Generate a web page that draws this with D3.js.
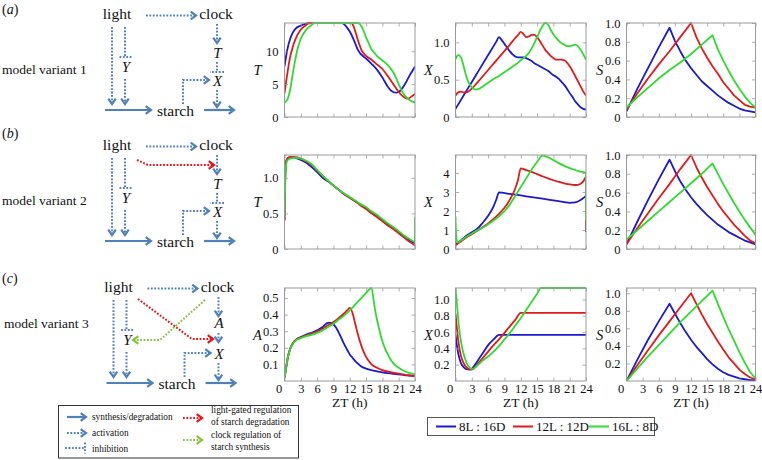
<!DOCTYPE html>
<html><head><meta charset="utf-8">
<script src="https://cdn.jsdelivr.net/npm/d3@7"></script>
<style>
body{margin:0;background:#fff}
svg{display:block}
svg text{font-family:"Liberation Serif","Times New Roman",Times,"DejaVu Serif",serif !important;fill:#111}
</style>
</head><body>
<svg id="chart" width="762" height="460"></svg>
<script>
// ---------- categories / legend ----------
const photoperiods = ["8L : 16D", "12L : 12D", "16L : 8D"];
const seriesColors = ["#1a1ad2", "#e31a1a", "#2edc2e"];
const hourTicks = [0, 3, 6, 9, 12, 15, 18, 21, 24];
const variantNames = ["model variant 1", "model variant 2", "model variant 3"];
const panelLetters = ["a", "b", "c"];

// ---------- y tick labels ----------
const yTicks_T1 = [0, 5, 10];
const yTicks_X1 = [0, 0.5, 1.0];
const yTicks_S = [0, 0.2, 0.4, 0.6, 0.8, 1.0];
const yTicks_T2 = [0, 0.5, 1.0];
const yTicks_X2 = [0, 1, 2, 3, 4];
const yTicks_A3 = [0.1, 0.2, 0.3, 0.4, 0.5];
const yTicks_X3 = [0.2, 0.4, 0.6, 0.8, 1.0];
const yTicks_S3 = [0.2, 0.4, 0.6, 0.8, 1.0];

// ---------- series values [ZT (h), value] ----------
// model variant 1
const T_v1_8 = [[0,7.7],[0.5,10.2],[1,11.8],[1.5,12.8],[2,13.4],[3,13.9],[4,14.2],[5,14.3],[10.5,14.3],[11,14.1],[11.5,13.6],[12,13],[12.5,12.2],[13,11.2],[13.5,10.2],[14,9.6],[15,8.9],[16,8.1],[17,7.2],[18,6],[19,4.6],[19.5,4.1],[20,3.8],[20.5,3.7],[21,3.8],[21.5,4.2],[22,4.8],[22.5,5.5],[23,6.3],[23.5,7],[24,7.7]];
const T_v1_12 = [[0,3.6],[0.5,6.5],[1,9],[1.5,10.6],[2,11.8],[3,13.3],[4,14],[4.5,14.3],[12.3,14.3],[12.7,13.8],[13.2,12.5],[13.7,11.2],[14.2,10.1],[15,9.3],[16,8.7],[17,8],[18,7.3],[19,6.2],[20,5],[21,3.8],[22,3.0],[22.5,2.8],[23,2.9],[23.5,3.2],[24,3.5]];
const T_v1_16 = [[0,2.2],[0.5,2.6],[1,4],[1.5,6.5],[2,8.8],[2.5,10.7],[3,11.9],[4,13.3],[5,14],[5.5,14.3],[13.5,14.3],[14,14],[14.5,13.2],[15,12.1],[15.5,11.2],[16,10.3],[16.5,9.8],[17,9.3],[18,8.6],[19,7.9],[20,6.8],[20.5,6],[21,5],[21.5,4.1],[22,3.4],[23,2.6],[24,2.2]];
const X_v1_8 = [[0,0.11],[2,0.35],[4,0.59],[6,0.83],[7.5,1.01],[8,1.07],[8.5,1.03],[9,0.98],[9.5,0.93],[10,0.88],[10.5,0.84],[11,0.81],[11.5,0.8],[12,0.8],[12.5,0.8],[13,0.79],[13.5,0.77],[14,0.75],[14.5,0.72],[15,0.7],[15.5,0.68],[16,0.66],[17,0.62],[18,0.56],[18.5,0.54],[19,0.51],[19.5,0.47],[20,0.43],[20.5,0.38],[21,0.32],[21.5,0.27],[22,0.21],[22.5,0.17],[23,0.13],[23.5,0.11],[24,0.1]];
const X_v1_12 = [[0,0.29],[0.5,0.33],[1,0.34],[1.5,0.33],[2,0.33],[2.5,0.35],[3,0.38],[4,0.46],[6,0.63],[8,0.8],[10,0.97],[11,1.06],[11.5,1.1],[12,1.14],[12.5,1.11],[13,1.07],[13.5,1.08],[14,1.1],[14.5,1.1],[15,1.07],[15.5,1.02],[16,0.96],[16.5,0.9],[17,0.86],[17.5,0.82],[18,0.79],[18.5,0.77],[19,0.77],[19.5,0.77],[20,0.76],[20.5,0.73],[21,0.68],[21.5,0.62],[22,0.55],[22.5,0.48],[23,0.41],[23.5,0.34],[24,0.29]];
const X_v1_16 = [[0,0.77],[0.3,0.82],[0.6,0.83],[1,0.8],[1.5,0.68],[2,0.54],[2.5,0.45],[3,0.4],[3.5,0.37],[4,0.37],[5,0.41],[6,0.46],[7,0.51],[8,0.55],[9,0.6],[10,0.65],[11,0.7],[12,0.76],[13,0.82],[13.5,0.86],[14,0.92],[14.5,0.99],[15,1.07],[15.5,1.15],[16,1.22],[16.5,1.26],[17,1.24],[17.5,1.17],[18,1.11],[18.5,1.06],[19,1.02],[19.5,0.99],[20,0.97],[20.5,0.95],[21,0.95],[21.5,0.96],[22,0.97],[22.5,0.95],[23,0.9],[23.5,0.84],[24,0.77]];
const S_v1_8 = [[0,0.06],[2,0.3],[4,0.52],[6,0.74],[8,0.95],[9,0.81],[10,0.7],[11,0.6],[12,0.52],[13,0.45],[14,0.38],[15,0.33],[16,0.28],[17,0.23],[18,0.19],[19,0.15],[20,0.12],[21,0.09],[22,0.07],[23,0.06],[24,0.05]];
const S_v1_12 = [[0,0.08],[2,0.25],[4,0.41],[6,0.56],[8,0.7],[10,0.85],[12,1.0],[13,0.85],[14,0.73],[15,0.63],[16,0.54],[17,0.46],[18,0.37],[19,0.3],[20,0.23],[21,0.18],[22,0.13],[23,0.11],[24,0.1]];
const S_v1_16 = [[0,0.1],[2,0.21],[4,0.31],[6,0.41],[8,0.5],[10,0.58],[12,0.67],[14,0.77],[16,0.87],[17,0.72],[18,0.6],[19,0.49],[20,0.39],[21,0.3],[22,0.22],[23,0.15],[24,0.1]];
// model variant 2
const T_v2_8 = [[0,0.4],[0.1,0.9],[0.25,1.2],[0.5,1.27],[1,1.29],[2,1.28],[3,1.25],[4,1.21],[5,1.15],[6,1.08],[7,1.0],[8,0.95],[9,0.89],[10,0.83],[11,0.77],[12,0.72],[13,0.67],[14,0.62],[15,0.57],[16,0.51],[17,0.46],[18,0.4],[19,0.34],[20,0.29],[21,0.23],[22,0.17],[23,0.12],[24,0.08]];
const T_v2_12 = [[0,0.4],[0.1,0.9],[0.25,1.2],[0.5,1.27],[1,1.29],[2,1.29],[3,1.27],[4,1.23],[5,1.18],[6,1.1],[7,1.03],[8,0.96],[9,0.89],[10,0.83],[11,0.77],[12,0.72],[13,0.67],[14,0.61],[15,0.56],[16,0.5],[17,0.45],[18,0.39],[19,0.33],[20,0.28],[21,0.22],[22,0.16],[23,0.1],[24,0.05]];
const T_v2_16 = [[0,0.45],[0.1,0.8],[0.25,1.15],[0.5,1.24],[1,1.27],[2,1.28],[3,1.27],[4,1.24],[5,1.19],[6,1.11],[7,1.03],[8,0.96],[9,0.89],[10,0.83],[11,0.78],[12,0.73],[13,0.68],[14,0.63],[15,0.59],[16,0.53],[17,0.48],[18,0.42],[19,0.36],[20,0.31],[21,0.25],[22,0.19],[23,0.14],[24,0.1],[24,0.45]];
const X_v2_8 = [[0,0.25],[1,0.45],[2,0.7],[3,0.88],[4,1.07],[5,1.38],[6,1.75],[7,2.25],[7.5,2.6],[8,2.98],[10,2.9],[12,2.82],[14,2.73],[16,2.65],[18,2.56],[20,2.47],[21,2.43],[22,2.45],[23,2.58],[23.5,2.68],[24,2.78],[24,0.9]];
const X_v2_12 = [[0,0.2],[1,0.4],[2,0.61],[3,0.78],[4,0.96],[5,1.15],[6,1.35],[7,1.58],[8,1.85],[9,2.17],[10,2.6],[11,3.2],[11.5,3.65],[12,4.25],[13,4.15],[14,4.06],[15,3.94],[16,3.83],[17,3.72],[18,3.62],[19,3.53],[20,3.46],[21,3.4],[22,3.37],[22.5,3.38],[23,3.44],[23.5,3.56],[24,3.8],[24,1.0]];
const X_v2_16 = [[0,1.7],[0.15,0.6],[0.4,0.35],[1,0.45],[2,0.65],[3,0.82],[4,0.98],[5,1.12],[6,1.3],[7,1.5],[8,1.72],[9,2.0],[10,2.35],[11,2.8],[12,3.27],[13,3.72],[14,4.18],[15,4.58],[16,4.92],[17,4.83],[18,4.68],[19,4.52],[20,4.38],[21,4.26],[22,4.16],[23,4.08],[24,4.0],[24,1.5]];
const S_v2_8 = [[0,0.05],[2,0.29],[4,0.52],[6,0.74],[8,0.95],[9,0.83],[10,0.72],[11,0.63],[12,0.55],[13,0.48],[14,0.42],[15,0.36],[16,0.31],[17,0.26],[18,0.22],[19,0.18],[20,0.15],[21,0.12],[22,0.09],[23,0.07],[24,0.05]];
const S_v2_12 = [[0,0.05],[2,0.22],[4,0.38],[6,0.54],[8,0.69],[10,0.85],[12,1.0],[13,0.87],[14,0.76],[15,0.66],[16,0.57],[17,0.48],[18,0.4],[19,0.33],[20,0.26],[21,0.2],[22,0.14],[23,0.09],[24,0.06]];
const S_v2_16 = [[0,0.1],[2,0.2],[4,0.3],[6,0.4],[8,0.5],[10,0.6],[12,0.7],[14,0.8],[16,0.91],[17,0.8],[18,0.69],[19,0.59],[20,0.49],[21,0.4],[22,0.31],[23,0.23],[24,0.15]];
// model variant 3
const A_v3_8 = [[0,0.02],[0.3,0.08],[0.6,0.14],[1,0.19],[1.5,0.225],[2,0.245],[3,0.265],[4,0.28],[5,0.29],[6,0.305],[7,0.325],[7.5,0.34],[8,0.35],[8.5,0.35],[9,0.34],[9.5,0.32],[10,0.29],[10.5,0.255],[11,0.22],[11.5,0.19],[12,0.16],[12.5,0.14],[13,0.12],[13.5,0.105],[14,0.09],[15,0.075],[16,0.065],[17,0.058],[18,0.052],[19,0.047],[20,0.043],[21,0.04],[22,0.036],[23,0.033],[24,0.03]];
const A_v3_12 = [[0,0.02],[0.3,0.08],[0.6,0.14],[1,0.19],[1.5,0.225],[2,0.245],[3,0.262],[4,0.275],[5,0.285],[6,0.298],[7,0.315],[8,0.335],[9,0.355],[10,0.38],[11,0.408],[11.5,0.425],[12,0.44],[12.5,0.41],[13,0.345],[13.5,0.28],[14,0.225],[14.5,0.18],[15,0.145],[15.5,0.12],[16,0.1],[17,0.08],[18,0.066],[19,0.057],[20,0.05],[21,0.045],[22,0.038],[23,0.033],[24,0.03]];
const A_v3_16 = [[0,0.02],[0.3,0.08],[0.6,0.14],[1,0.19],[1.5,0.222],[2,0.242],[3,0.258],[4,0.27],[5,0.278],[6,0.29],[7,0.305],[8,0.325],[9,0.345],[10,0.37],[11,0.395],[12,0.425],[13,0.46],[14,0.495],[15,0.53],[15.5,0.548],[16,0.56],[16.5,0.46],[17,0.37],[17.5,0.3],[18,0.24],[18.5,0.195],[19,0.16],[19.5,0.13],[20,0.108],[21,0.08],[22,0.06],[23,0.048],[24,0.04]];
const X_v3_8 = [[0,0.57],[0.25,0.44],[0.5,0.34],[0.75,0.27],[1,0.22],[1.5,0.17],[2,0.145],[2.5,0.14],[3,0.15],[3.5,0.19],[4,0.24],[5,0.34],[6,0.44],[7,0.51],[8,0.565],[24,0.565]];
const X_v3_12 = [[0,0.83],[0.25,0.65],[0.5,0.5],[0.75,0.39],[1,0.31],[1.5,0.22],[2,0.17],[2.5,0.145],[3,0.14],[3.5,0.16],[4,0.2],[5,0.28],[6,0.36],[7,0.44],[8,0.51],[9,0.59],[10,0.67],[11,0.75],[12,0.835],[24,0.835]];
const X_v3_16 = [[0,1.14],[0.25,0.95],[0.5,0.76],[0.75,0.6],[1,0.49],[1.5,0.33],[2,0.23],[2.5,0.17],[3,0.148],[3.5,0.16],[4,0.19],[5,0.25],[6,0.3],[7,0.36],[8,0.43],[9,0.51],[10,0.59],[11,0.68],[12,0.77],[13,0.87],[14,0.97],[15,1.07],[15.7,1.14],[24,1.14]];
const S_v3_8 = [[0,0.0],[2,0.24],[4,0.47],[6,0.68],[8,0.88],[9,0.77],[10,0.66],[11,0.56],[12,0.47],[13,0.39],[14,0.32],[15,0.25],[16,0.19],[17,0.14],[18,0.1],[19,0.07],[20,0.05],[21,0.03],[22,0.02],[23,0.01],[24,0.01]];
const S_v3_12 = [[0,0.0],[2,0.18],[4,0.35],[6,0.52],[8,0.68],[10,0.84],[12,1.0],[13,0.88],[14,0.76],[15,0.65],[16,0.55],[17,0.45],[18,0.36],[19,0.27],[20,0.2],[21,0.13],[22,0.08],[23,0.04],[24,0.02]];
const S_v3_16 = [[0,0.0],[2,0.14],[4,0.28],[6,0.41],[8,0.54],[10,0.67],[12,0.79],[14,0.91],[16,1.03],[17,0.88],[18,0.73],[19,0.59],[20,0.46],[21,0.33],[22,0.21],[23,0.1],[24,0.03]];

// ---------- layout ----------
const FONT = "'Liberation Serif', 'Times New Roman', Times, 'DejaVu Serif', serif";
const svg = d3.select("#chart");
const colX = [[284.5, 415], [455.5, 586], [626.5, 755.5]];
const rowY = [[23, 117], [155, 249], [288, 381]];
const frameColor = "#9a9a9a";

const panels = [
  {r:0,c:0,lab:"T",dom:[0,14.3],ticks:yTicks_T1,data:[T_v1_8,T_v1_12,T_v1_16],lin:false},
  {r:0,c:1,lab:"X",dom:[0,1.26],ticks:yTicks_X1,data:[X_v1_8,X_v1_12,X_v1_16],lin:false},
  {r:0,c:2,lab:"S",dom:[0,1.0],ticks:yTicks_S,data:[S_v1_8,S_v1_12,S_v1_16],lin:true},
  {r:1,c:0,lab:"T",dom:[0,1.32],ticks:yTicks_T2,data:[T_v2_8,T_v2_12,T_v2_16],lin:false},
  {r:1,c:1,lab:"X",dom:[0,4.95],ticks:yTicks_X2,data:[X_v2_8,X_v2_12,X_v2_16],lin:false},
  {r:1,c:2,lab:"S",dom:[0,1.0],ticks:yTicks_S,data:[S_v2_8,S_v2_12,S_v2_16],lin:true},
  {r:2,c:0,lab:"A",dom:[0,0.56],ticks:yTicks_A3,data:[A_v3_8,A_v3_12,A_v3_16],lin:false},
  {r:2,c:1,lab:"X",dom:[0,1.14],ticks:yTicks_X3,data:[X_v3_8,X_v3_12,X_v3_16],lin:false},
  {r:2,c:2,lab:"S",dom:[0,1.06],ticks:yTicks_S3,data:[S_v3_8,S_v3_12,S_v3_16],lin:true}
];

panels.forEach((p, i) => {
  const [x0, x1] = colX[p.c], [y0, y1] = rowY[p.r];
  const x = d3.scaleLinear().domain([0, 24]).range([x0, x1]);
  const y = d3.scaleLinear().domain(p.dom).range([y1, y0]);
  const g = svg.append("g");
  svg.append("clipPath").attr("id", "cp" + i).append("rect")
    .attr("x", x0).attr("y", y0 - 1).attr("width", x1 - x0).attr("height", y1 - y0 + 1);

  const line = d3.line().x(d => x(d[0])).y(d => y(d[1]))
    .curve(p.lin ? d3.curveLinear : d3.curveMonotoneX);
  p.data.forEach((s, k) => {
    g.append("path").datum(s).attr("d", line).attr("fill", "none")
      .attr("stroke", seriesColors[k]).attr("stroke-width", 1.8)
      .attr("stroke-linejoin", "round").attr("clip-path", `url(#cp${i})`);
  });

  const fmtInt = p.dom[1] > 4;
  const yFmt = v => v === 0 ? "0" : (fmtInt ? String(v) : v.toFixed(1));
  const axL = g.append("g").attr("transform", `translate(${x0},0)`)
    .call(d3.axisLeft(y).tickValues(p.ticks).tickFormat(yFmt).tickSizeInner(-3.5).tickSizeOuter(0).tickPadding(6));
  const axR = g.append("g").attr("transform", `translate(${x1},0)`)
    .call(d3.axisRight(y).tickValues(p.ticks).tickFormat("").tickSizeInner(-3.5).tickSizeOuter(0));
  const axB = g.append("g").attr("transform", `translate(0,${y1})`)
    .call(d3.axisBottom(x).tickValues(hourTicks).tickFormat(p.r === 2 ? d3.format("d") : "").tickSizeInner(-3.5).tickSizeOuter(0).tickPadding(3));
  const axT = g.append("g").attr("transform", `translate(0,${y0})`)
    .call(d3.axisTop(x).tickValues(hourTicks).tickFormat("").tickSizeInner(-3.5).tickSizeOuter(0));
  [axL, axR, axB, axT].forEach(a => {
    a.attr("font-family", null).attr("font-size", null);
    a.select(".domain").remove();
    a.selectAll(".tick line").attr("stroke", frameColor).attr("stroke-width", 0.8);
    a.selectAll(".tick text").style("font-family", FONT).style("font-size", "12.5px").attr("fill", "#111");
  });
  axB.selectAll(".tick text").filter(d => d === 0).attr("dx", -6);
  g.append("rect").attr("x", x0).attr("y", y0).attr("width", x1 - x0).attr("height", y1 - y0)
    .attr("fill", "none").attr("stroke", frameColor).attr("stroke-width", 1);
  g.append("text").attr("x", x0 - 27).attr("y", (y0 + y1) / 2 + 5).attr("text-anchor", "middle")
    .style("font-family", FONT).style("font-style", "italic").style("font-size", "14.5px").text(p.lab);
  if (p.r === 2) {
    g.append("text").attr("x", (x0 + x1) / 2).attr("y", 406.5).attr("text-anchor", "middle")
      .style("font-family", FONT).style("font-size", "13.5px").text("ZT (h)");
  }
});

// ---------- bottom legend ----------
const leg = svg.append("g");
leg.append("rect").attr("x", 427.5).attr("y", 417.5).attr("width", 227).attr("height", 18)
  .attr("fill", "#fff").attr("stroke", "#555").attr("stroke-width", 1);
const legX = [436, 513, 589];
photoperiods.forEach((name, k) => {
  leg.append("line").attr("x1", legX[k]).attr("x2", legX[k] + 20).attr("y1", 426.5).attr("y2", 426.5)
    .attr("stroke", seriesColors[k]).attr("stroke-width", 2);
  leg.append("text").attr("x", legX[k] + 23).attr("y", 431)
    .style("font-family", FONT).style("font-size", "13px").text(name);
});

// ---------- model diagrams ----------
const dBlue = "#4f81bd", dRed = "#e8141c", dGreen = "#86c440";
const dg = svg.append("g");
function pathLine(pts, color, dotted) {
  dg.append("path").attr("d", d3.line()(pts)).attr("fill", "none").attr("stroke", color)
    .attr("stroke-width", dotted ? 2 : 2.2).attr("stroke-dasharray", dotted ? "1.8,1.6" : null);
}
function chevron(pts, color) {
  const [a, b] = [pts[pts.length - 2], pts[pts.length - 1]];
  const ang = Math.atan2(b[1] - a[1], b[0] - a[0]);
  const L = 6.5, w = 0.62;
  const p1 = [b[0] - L * Math.cos(ang - w), b[1] - L * Math.sin(ang - w)];
  const p2 = [b[0] - L * Math.cos(ang + w), b[1] - L * Math.sin(ang + w)];
  dg.append("path").attr("d", d3.line()([p1, b, p2])).attr("fill", "none").attr("stroke", color)
    .attr("stroke-width", 2.2).attr("stroke-linejoin", "miter");
}
function arrow(pts, color, dotted) {
  const a = pts[pts.length - 2], b = pts[pts.length - 1];
  const ang = Math.atan2(b[1] - a[1], b[0] - a[0]);
  const shortened = pts.slice(0, -1).concat([[b[0] - 1.5 * Math.cos(ang), b[1] - 1.5 * Math.sin(ang)]]);
  pathLine(shortened, color, dotted);
  chevron(pts, color);
}
function inhibit(pts, color, barHalf) {
  pathLine(pts, color, true);
  const a = pts[pts.length - 2], b = pts[pts.length - 1];
  const ang = Math.atan2(b[1] - a[1], b[0] - a[0]) + Math.PI / 2;
  pathLine([[b[0] - barHalf * Math.cos(ang), b[1] - barHalf * Math.sin(ang)],
            [b[0] + barHalf * Math.cos(ang), b[1] + barHalf * Math.sin(ang)]], color, true);
}
function label(x, y, t, size, italic, anchor) {
  dg.append("text").attr("x", x).attr("y", y).attr("text-anchor", anchor || "middle")
    .style("font-family", FONT).style("font-size", size + "px")
    .style("font-style", italic ? "italic" : "normal").text(t);
}

function diagram(v, dy, dx) {
  const X = x => x + dx, Y = y => y + dy;
  const pl = dg.append("text").attr("x", 2).attr("y", Y(v === 0 ? 14 : (v === 1 ? 7 : 10)))
    .style("font-family", FONT).style("font-size", "14px");
  pl.append("tspan").text("(");
  pl.append("tspan").style("font-style", "italic").text(panelLetters[v]);
  pl.append("tspan").text(")");
  label(v === 2 ? 4 : 2, Y(v === 2 ? 55 : 74), variantNames[v], 13.5, false, "start");
  label(X(117), Y(19), "light", 15.5);
  label(X(216), Y(19), "clock", 15.5);
  arrow([[X(146), Y(15.5)], [X(196), Y(15.5)]], dBlue, true);
  arrow([[X(112), Y(27)], [X(112), Y(104)]], dBlue, true);
  inhibit([[X(125), Y(27)], [X(125), Y(57)]], dBlue, 6.5);
  label(X(126), Y(72), "Y", 15, true);
  arrow([[X(125), Y(79)], [X(125), Y(104)]], dBlue, true);
  arrow([[X(105), Y(110)], [X(151), Y(110)]], dBlue, false);
  label(X(175.5), Y(115.5), "starch", 15.5);
  arrow([[X(204), Y(110)], [X(234), Y(110)]], dBlue, false);
  arrow([[X(217), Y(24)], [X(217), Y(43)]], dBlue, true);
  label(X(217.5), Y(v === 2 ? 55 : 58), v === 2 ? "A" : "T", 15, true);
  if (v === 2) arrow([[X(217), Y(60)], [X(217), Y(69)]], dBlue, true);
  else inhibit([[X(217), Y(62)], [X(217), Y(72)]], dBlue, 7);
  label(X(217.5), Y(86), "X", 15, true);
  arrow([[X(217), Y(90)], [X(217), Y(107)]], dBlue, true);
  arrow([[X(183), Y(104)], [X(183), Y(80)], [X(209), Y(80)]], dBlue, true);
}
diagram(0, 0, 0);
diagram(1, 131, 0);
diagram(2, 273, 1.5);
// light-gated regulation of starch degradation (variant 2 and 3)
arrow([[137, 160], [148, 165], [214, 165]], dRed, true);
arrow([[138, 299], [192, 339], [213, 339]], dRed, true);
// clock regulation of starch synthesis (variant 3)
arrow([[205, 300], [160, 340], [133, 340]], dGreen, true);

// ---------- model legend ----------
dg.append("rect").attr("x", 58.5).attr("y", 405.5).attr("width", 240).attr("height", 52.5)
  .attr("fill", "#fff").attr("stroke", "#333").attr("stroke-width", 1);
arrow([[67, 417], [86, 417]], dBlue, false);
arrow([[67, 433], [86, 433]], dBlue, true);
inhibit([[65, 448], [85, 448]], dBlue, 5.5);
arrow([[183, 418], [202, 418]], dRed, true);
arrow([[183, 440], [202, 440]], dGreen, true);
label(92, 420, "synthesis/degradation", 9.3, false, "start");
label(92, 436, "activation", 9.3, false, "start");
label(92, 451.5, "inhibition", 9.3, false, "start");
label(211, 413, "light-gated regulation", 9.3, false, "start");
label(211, 424.5, "of starch degradation", 9.3, false, "start");
label(211, 438, "clock regulation of", 9.3, false, "start");
label(211, 449.5, "starch synthesis", 9.3, false, "start");
</script>
</body></html>
